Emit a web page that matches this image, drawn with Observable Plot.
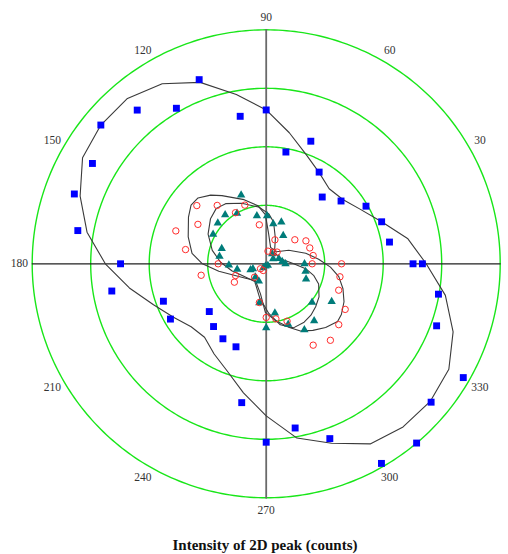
<!DOCTYPE html>
<html>
<head>
<meta charset="utf-8">
<script src="https://cdn.jsdelivr.net/npm/d3@7"></script>
<script src="https://cdn.jsdelivr.net/npm/@observablehq/plot@0.6"></script>
<style>
  html, body { margin: 0; padding: 0; background: #fff; }
  #chart { width: 508px; height: 536px; }
  #caption {
    box-sizing: border-box;
    width: 508px;
    padding-left: 22px;
    text-align: center;
    font: bold 15px "Liberation Serif", "Times New Roman", serif;
    line-height: 18px;
    color: #111;
  }
</style>
</head>
<body>
<div id="chart"></div>
<div id="caption">Intensity of 2D peak (counts)</div>
<script>
// Polarization angle (degrees) against 2D-peak intensity (counts)

// Series 1: blue squares
const blueAngle = [0, 10, 20, 30, 40, 50, 60, 70, 80, 90, 100, 110, 120, 130, 140, 150, 160, 170,
  180, 190, 200, 210, 220, 230, 240, 250, 260, 270, 280, 290, 300, 310, 320, 330, 340, 350, 360];
const blueIntensity = [2510, 2140, 2100, 1970, 1670, 1490, 1810, 2230, 1940, 2630, 2560, 3350, 3070,
  3430, 3690, 3430, 3490, 3270, 2490, 2680, 1870, 1890, 1270, 1400, 1480, 1510, 2410, 3050, 2850,
  3180, 3940, 4000, 3680, 3890, 3100, 2990, 2670];

// Fitted curve through series 1
const blueFitAngle = [0, 10, 20, 30, 40, 50, 60, 70, 80, 90, 100, 110, 120, 130, 140, 150, 160, 170,
  180, 190, 200, 210, 220, 230, 240, 250, 260, 270, 280, 290, 300, 310, 320, 330, 340, 350];
const blueFitIntensity = [2735, 2460, 2100, 1860, 1710, 1675, 1805, 1990, 2275, 2630, 2940, 3300,
  3555, 3690, 3690, 3625, 3385, 3110, 2750, 2375, 2050, 1830, 1675, 1640, 1780, 1950, 2240, 2600,
  3025, 3265, 3555, 3640, 3660, 3605, 3400, 3110];

// Series 2: red open circles
const redAngle = [0, 0, 10, 20, 30, 40, 47, 59, 70, 82, 100, 110, 121, 130, 140, 150, 160, 170, 180,
  190, 201, 210, 221, 229, 246, 260, 270, 280, 290, 300, 310, 320, 330, 340, 350];
const redIntensity = [1288, 786, 815, 793, 784, 639, 274, 232, 436, 218, 677, 1067, 1019, 1303, 1548,
  1348, 1644, 1400, 821, 1129, 561, 628, 129, 303, 125, 672, 917, 956, 1044, 1606, 1707, 1619, 1559,
  1319, 1280];

// Fitted curve through series 2
const redFitAngle = [86, 75, 50, 31, 15, 5, 357, 350, 342, 334, 326, 321, 313, 305, 297, 290, 279,
  269, 259, 237, 215, 189, 180, 172, 161, 149, 142, 136, 129, 123, 109, 98, 91];
const redFitIntensity = [540, 290, 270, 450, 700, 900, 1100, 1260, 1380, 1480, 1550, 1570, 1490,
  1390, 1290, 1160, 980, 830, 520, 340, 430, 820, 1090, 1280, 1410, 1550, 1630, 1620, 1510, 1390,
  1160, 1000, 840];

// Series 3: teal triangles
const tealAngle = [0, 349, 339, 330, 320, 310, 300, 290, 280, 270, 260, 247, 231, 233, 254, 315, 201,
  201, 191, 182, 171, 161, 151, 140, 130, 120, 110, 101, 89, 80, 70, 59, 59, 36, 22, 8, 0];
const tealIntensity = [655, 685, 730, 1292, 1023, 1275, 1305, 1101, 856, 1094, 676, 322, 292, 85, 42,
  40, 243, 287, 505, 638, 808, 804, 1038, 1080, 1092, 998, 1252, 835, 821, 694, 757, 565, 199, 147,
  233, 276, 330];

// Fitted curve through series 3
const tealFitAngle = [54, 19, 0, 353, 346, 339, 328, 319, 311, 303, 293, 283, 273, 259, 237, 203,
  192, 178, 166, 153, 141, 132, 124, 112, 97, 87, 80, 70];
const tealFitIntensity = [240, 260, 470, 680, 840, 960, 1065, 1120, 1165, 1190, 1190, 1070, 850, 590,
  360, 475, 595, 780, 950, 1115, 1225, 1275, 1240, 1115, 975, 855, 725, 460];

// Grid and labels
const ringIntensity = [1000, 2000, 3000, 4000];
const angleTicks = [30, 60, 90, 120, 150, 180, 210, 240, 270, 300, 330];
const maxIntensity = 4000;
const labelIntensity = 4220;

// Polar coordinates laid on a sphere: the pole is the origin, longitude
// carries the angle and the distance from the pole carries the intensity.
const DEG_PER_COUNT = 10 / 1000;
const lon = (a) => a + 90;
const lat = (v) => 90 - v * DEG_PER_COUNT;

const rows = (A, V) => A.map((a, i) => ({angle: a, value: V[i]}));
const closed = (r) => [...r, r[0]];

const blue = rows(blueAngle, blueIntensity);
const red = rows(redAngle, redIntensity);
const teal = rows(tealAngle, tealIntensity);
const blueFit = closed(rows(blueFitAngle, blueFitIntensity));
const redFit = closed(rows(redFitAngle, redFitIntensity));
const tealFit = closed(rows(tealFitAngle, tealFitIntensity));

const px = (d) => lon(d.angle);
const py = (d) => lat(d.value);

const horizontalAxis = [[lon(180), lat(maxIntensity)], [0, 90], [lon(0), lat(maxIntensity)]];
const verticalAxis = [[lon(90), lat(maxIntensity)], [0, 90], [lon(270), lat(maxIntensity)]];

const chart = Plot.plot({
  width: 508,
  height: 536,
  marginTop: 29.3,
  marginLeft: 31.7,
  marginRight: 8.3,
  marginBottom: 38.7,
  style: {background: "#fff"},
  projection: {
    type: "azimuthal-equidistant",
    rotate: [0, -90],
    clip: false,
    domain: d3.geoCircle().center([0, 90]).radius(maxIntensity * DEG_PER_COUNT)()
  },
  marks: [
    Plot.geo(ringIntensity, {
      geometry: (v) => d3.geoCircle().center([0, 90]).radius(v * DEG_PER_COUNT).precision(1)(),
      stroke: "#19e619",
      strokeWidth: 1.4,
      fill: "none"
    }),
    Plot.line(verticalAxis, {stroke: "#6a6a6a", strokeWidth: 1.8}),
    Plot.line(horizontalAxis, {stroke: "#222", strokeWidth: 1.2}),
    Plot.line(blueFit, {x: px, y: py, stroke: "#3a3a3a", strokeWidth: 1.1}),
    Plot.line(redFit, {x: px, y: py, stroke: "#3a3a3a", strokeWidth: 1.1}),
    Plot.line(tealFit, {x: px, y: py, stroke: "#3a3a3a", strokeWidth: 1.1}),
    Plot.dot(blue, {x: px, y: py, symbol: "square", r: 3.9, fill: "#0000ff", stroke: "none"}),
    Plot.dot(teal, {x: px, y: py, symbol: "triangle", r: 3.1, fill: "#007c7a", stroke: "none"}),
    Plot.dot(red, {x: px, y: py, symbol: "circle", r: 3.2, fill: "none", stroke: "#ff2b2b", strokeWidth: 1}),
    Plot.text(angleTicks, {
      x: (a) => lon(a),
      y: () => lat(labelIntensity),
      text: (a) => String(a),
      fontSize: 11.5,
      fontFamily: "Liberation Serif, Times New Roman, serif",
      fill: "#333"
    })
  ]
});

document.getElementById("chart").appendChild(chart);
</script>
</body>
</html>
